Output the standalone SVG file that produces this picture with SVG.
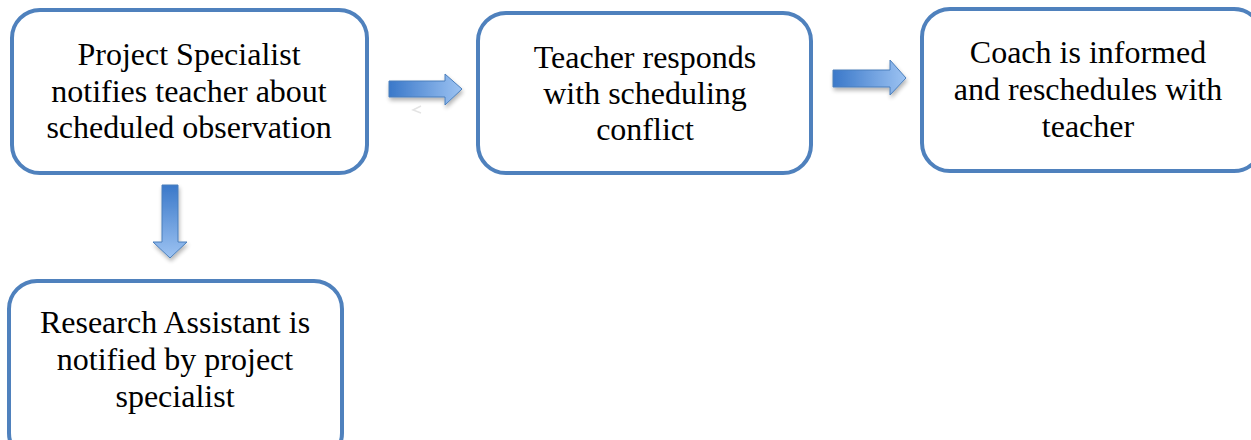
<svg xmlns="http://www.w3.org/2000/svg" width="1251" height="440" viewBox="0 0 1251 440">
<style>
.box{fill:#fff;stroke:#4f81bd;stroke-width:4}
.t{font-family:"Liberation Serif","Times New Roman",serif;font-size:32px;fill:#000;text-anchor:middle}
.arr{stroke:#4a7ebb;stroke-width:1}
</style>
<defs>
<linearGradient id="gh" x1="0" y1="0" x2="1" y2="0">
<stop offset="0" stop-color="#3a78c9"/>
<stop offset="1" stop-color="#9dc3f2"/>
</linearGradient>
<linearGradient id="gv" x1="0" y1="0" x2="0" y2="1">
<stop offset="0" stop-color="#3a78c9"/>
<stop offset="1" stop-color="#9dc3f2"/>
</linearGradient>
<filter id="sh" x="-30%" y="-30%" width="160%" height="170%">
<feGaussianBlur in="SourceAlpha" stdDeviation="2"/>
<feOffset dx="1" dy="3" result="b"/>
<feComponentTransfer><feFuncA type="linear" slope="0.3"/></feComponentTransfer>
<feMerge><feMergeNode/><feMergeNode in="SourceGraphic"/></feMerge>
</filter>
</defs>
<g id="connectors">
<path class="arr" filter="url(#sh)" fill="url(#gh)" d="M389,81 H445 V74 L462,89 L445,105 V97 H389 Z"/>
<path d="M421,106 L413,110 L421,113" fill="none" stroke="#e4e4e4" stroke-width="1.5"/>
<path class="arr" filter="url(#sh)" fill="url(#gh)" d="M833,70 H890 V60 L906,78 L890,95 V87 H833 Z"/>
<path class="arr" filter="url(#sh)" fill="url(#gv)" d="M162,185 H178 V242 H187 L170,258 L153,242 H162 Z"/>
</g>
<g id="node1">
<rect class="box" x="12" y="10" width="355" height="163" rx="28"/>
<text class="t" x="189" y="65">Project Specialist</text>
<text class="t" x="189" y="102">notifies teacher about</text>
<text class="t" x="189" y="138">scheduled observation</text>
</g>
<g id="node2">
<rect class="box" x="478" y="13" width="333" height="160" rx="28"/>
<text class="t" x="645" y="68">Teacher responds</text>
<text class="t" x="645" y="104">with scheduling</text>
<text class="t" x="645" y="140">conflict</text>
</g>
<g id="node3">
<rect class="box" x="922" y="9" width="340" height="162" rx="28"/>
<text class="t" x="1088" y="63">Coach is informed</text>
<text class="t" x="1088" y="100">and reschedules with</text>
<text class="t" x="1088" y="137">teacher</text>
</g>
<g id="node4">
<rect class="box" x="9" y="281" width="333" height="180" rx="28"/>
<text class="t" x="175" y="333">Research Assistant is</text>
<text class="t" x="175" y="370">notified by project</text>
<text class="t" x="175" y="407">specialist</text>
</g>
</svg>
